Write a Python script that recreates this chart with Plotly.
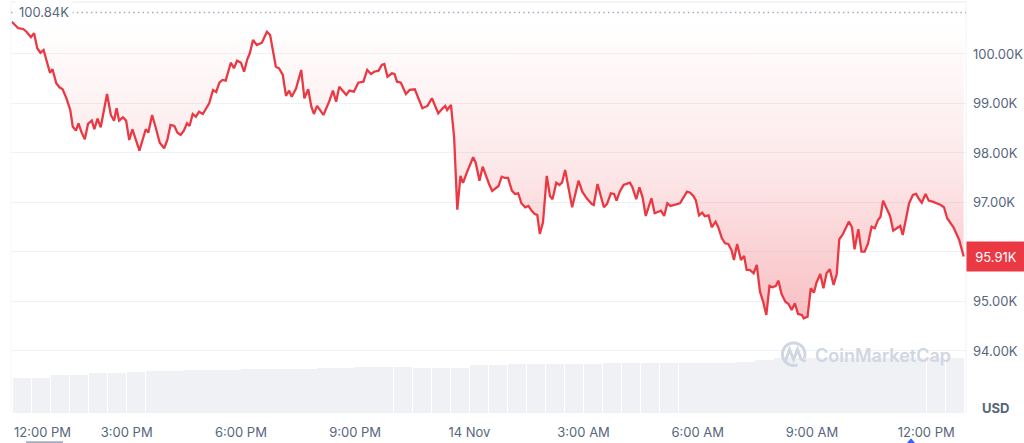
import plotly.graph_objects as go
import pandas as pd
import numpy as np

# ---------------- data ----------------
times_nov13 = [
    "11:59", "12:04", "12:09", "12:17", "12:22", "12:29", "12:34", "12:39", "12:44", "12:49",
    "12:54", "12:59", "13:03", "13:09", "13:14", "13:19", "13:25", "13:31", "13:35", "13:40",
    "13:44", "13:49", "13:54", "13:59", "14:05", "14:09", "14:14", "14:19", "14:29", "14:35",
    "14:40", "14:44", "14:48", "14:54", "14:59", "15:04", "15:09", "15:15", "15:20", "15:25",
    "15:30", "15:34", "15:40", "15:46", "15:52", "15:59", "16:04", "16:09", "16:15", "16:20",
    "16:25", "16:30", "16:35", "16:39", "16:44", "16:49", "16:54", "17:00", "17:05", "17:10",
    "17:16", "17:21", "17:26", "17:31", "17:36", "17:44", "17:49", "17:54", "18:00", "18:05",
    "18:10", "18:14", "18:19", "18:25", "18:33", "18:41", "18:46", "18:55", "19:00", "19:06",
    "19:11", "19:16", "19:20", "19:27", "19:35", "19:40", "19:46", "19:51", "19:55", "20:00",
    "20:10", "20:19", "20:25", "20:30", "20:35", "20:46", "20:51", "20:58", "21:05", "21:13",
    "21:19", "21:25", "21:30", "21:37", "21:42", "21:46", "21:51", "21:58", "22:02", "22:06",
    "22:12", "22:20", "22:26", "22:34", "22:46", "22:54", "23:01", "23:11", "23:18", "23:22",
    "23:25", "23:31", "23:36", "23:41", "23:46", "23:50", "23:56",
]
prices_nov13 = [
    100650, 100590, 100520, 100505, 100450, 100340, 100420, 100115, 100025, 100080,
    99844, 99622, 99691, 99408, 99327, 99287, 99105, 98869, 98531, 98451,
    98600, 98410, 98277, 98586, 98653, 98479, 98693, 98519, 99192, 98768,
    98653, 98903, 98653, 98721, 98653, 98263, 98479, 98228, 98047, 98263,
    98479, 98410, 98768, 98499, 98208, 98095, 98263, 98566, 98546, 98410,
    98364, 98451, 98600, 98546, 98788, 98733, 98834, 98788, 98883, 99004,
    99273, 99232, 99420, 99475, 99461, 99824, 99711, 99865, 99824, 99642,
    99893, 100014, 100283, 100182, 100228, 100450, 100384, 99743, 99711, 99576,
    99152, 99259, 99137, 99307, 99677, 99105, 99287, 98935, 98788, 98950,
    98768, 99036, 99259, 99036, 99339, 99172, 99259, 99238, 99420, 99440,
    99677, 99596, 99642, 99663, 99778, 99798, 99541, 99610, 99596, 99440,
    99420, 99192, 99273, 99287, 98903, 98950, 99105, 98802, 98903, 98950,
    98869, 98970, 98313, 96855, 97536, 97394, 97602,
]
times_nov14 = [
    "00:01", "00:06", "00:10", "00:16", "00:21", "00:26", "00:31", "00:36", "00:41", "00:46",
    "00:51", "00:56", "01:01", "01:07", "01:12", "01:17", "01:22", "01:28", "01:33", "01:38",
    "01:43", "01:47", "01:51", "01:56", "02:02", "02:07", "02:11", "02:17", "02:22", "02:26",
    "02:31", "02:37", "02:42", "02:47", "02:52", "02:58", "03:05", "03:13", "03:16", "03:22",
    "03:27", "03:32", "03:37", "03:43", "03:48", "03:52", "03:57", "04:03", "04:13", "04:17",
    "04:23", "04:28", "04:33", "04:38", "04:47", "04:52", "05:02", "05:07", "05:12", "05:17",
    "05:32", "05:37", "05:43", "05:48", "05:53", "05:57", "06:02", "06:07", "06:11", "06:17",
    "06:22", "06:28", "06:32", "06:38", "06:43", "06:48", "06:53", "06:57", "07:02", "07:08",
    "07:13", "07:17", "07:22", "07:28", "07:33", "07:38", "07:43", "07:48", "07:53", "07:58",
    "08:03", "08:07", "08:12", "08:18", "08:23", "08:28", "08:33", "08:38", "08:44", "08:47",
    "08:53", "08:58", "09:03", "09:07", "09:13", "09:18", "09:23", "09:28", "09:34", "09:39",
    "09:43", "09:48", "09:54", "09:58", "10:03", "10:07", "10:13", "10:18", "10:23", "10:28",
    "10:34", "10:39", "10:44", "10:48", "10:52", "10:58", "11:03", "11:08", "11:14", "11:19",
    "11:23", "11:28", "11:33", "11:39", "11:44", "11:49", "11:53", "11:59", "12:04", "12:10",
    "12:18", "12:23", "12:28", "12:33", "12:43", "12:52", "12:59",
]
prices_nov14 = [
    97778, 97913, 97804, 97441, 97723, 97536, 97374, 97233, 97287, 97334,
    97521, 97495, 97495, 97239, 97172, 97186, 96984, 96903, 96930, 96835,
    96768, 96748, 96364, 96592, 97536, 97132, 97065, 97400, 97354, 97400,
    97657, 97253, 96903, 97172, 97441, 97218, 97085, 96970, 96950, 97374,
    97132, 96903, 96970, 97186, 97172, 97037, 97218, 97354, 97400, 97307,
    97065, 97307, 97105, 96728, 97085, 96782, 96835, 96728, 96984, 96930,
    96984, 97105, 97218, 97198, 97132, 97041, 96738, 96794, 96722, 96738,
    96499, 96612, 96511, 96277, 96176, 96162, 96041, 95839, 96162, 95839,
    95920, 95637, 95637, 95570, 95738, 95198, 94996, 94728, 95314, 95287,
    95314, 95421, 95152, 94996, 94950, 94829, 94964, 94748, 94728, 94661,
    94693, 95267, 95178, 95380, 95556, 95267, 95570, 95651, 95334, 95556,
    96257, 96344, 96511, 96612, 96499, 96055, 96459, 96006, 96006, 96162,
    96511, 96479, 96647, 96713, 97037, 96849, 96728, 96431, 96479, 96526,
    96344, 96661, 96984, 97152, 97172, 97065, 96996, 97172, 97037, 97016,
    96970, 96950, 96903, 96681, 96499, 96243, 95910,
]
# 30-minute volume bars (billions USD)
volume_b = [
    59.6, 59.6, 64.2, 64.2, 68.1, 68.1, 69.8, 71.5, 71.5, 73.9,
    73.9, 73.9, 75.6, 75.6, 75.6, 75.6, 77.3, 77.3, 78.3, 78.3,
    78.3, 77.3, 77.3, 77.3, 81.2, 81.2, 82.9, 84.1, 84.1, 84.1,
    84.1, 85.8, 85.8, 85.8, 85.8, 85.8, 85.8, 85.8, 87.5, 90.9,
    94.3, 94.3, 94.3, 94.3, 94.3, 94.3, 94.3, 94.3, 94.3, 94.3,
]
high_24h = 100840
x_tick_times = ["2025-11-13 15:00", "2025-11-13 18:00", "2025-11-13 21:00", "2025-11-14 00:00",
                "2025-11-14 03:00", "2025-11-14 06:00", "2025-11-14 09:00", "2025-11-14 12:00"]
x_tick_labels = ["3:00 PM", "6:00 PM", "9:00 PM", "14 Nov", "3:00 AM", "6:00 AM", "9:00 AM", "12:00 PM"]
first_x_label = "12:00 PM"
y_ticks = [94000, 95000, 96000, 97000, 98000, 99000, 100000]
y_tick_labels = ["94.00K", "95.00K", "", "97.00K", "98.00K", "99.00K", "100.00K"]  # 96K label hidden by price badge

# ---------------- build ----------------
RED = "#ea3943"
GREY = "#58667e"
FONT = "Inter"
W, H = 1024, 443
ML, MR, MT, MB = 11, 58, 2, 30
PW, PH = W - ML - MR, H - MT - MB

def pxx(x):  # pixel -> paper x
    return (x - ML) / PW

def pyy(y):  # pixel -> paper y
    return (H - MB - y) / PH

times = pd.to_datetime(["2025-11-13 " + t for t in times_nov13] + ["2025-11-14 " + t for t in times_nov14])
prices = prices_nov13 + prices_nov14
baseline = prices[0]
vol_times = pd.date_range("2025-11-13 12:15", periods=len(volume_b), freq="30min")

fig = go.Figure()
fig.add_trace(go.Bar(x=vol_times, y=volume_b, yaxis="y2", marker=dict(color="#eff1f5", line=dict(width=0)),
                     width=1800000 * 0.97, hoverinfo="skip", showlegend=False))
fig.add_trace(go.Scatter(x=times, y=[baseline] * len(prices), mode="lines", line=dict(width=0, color="rgba(0,0,0,0)"),
                         hoverinfo="skip", showlegend=False))
fig.add_trace(go.Scatter(x=times, y=prices, mode="lines", line=dict(color=RED, width=2.3),
                         fill="tonexty",
                         fillgradient=dict(type="vertical",
                                           colorscale=[[0, "rgba(234,57,67,0.32)"], [0.5, "rgba(234,57,67,0.12)"],
                                                       [1, "rgba(234,57,67,0.0)"]]),
                         showlegend=False))

shapes = [
    dict(type="line", xref="paper", yref="paper", x0=0, x1=1, y0=1, y1=1, line=dict(color="#eff2f5", width=1.5)),
    dict(type="line", xref="paper", yref="paper", x0=1, x1=1, y0=0, y1=1, line=dict(color="#eff2f5", width=1)),
    dict(type="line", xref="paper", yref="paper", x0=0, x1=0, y0=0, y1=1, line=dict(color="#f5f6f8", width=1)),
    dict(type="line", xref="paper", yref="y", x0=0, x1=1, y0=high_24h, y1=high_24h,
         line=dict(color="#a3acbb", width=1.5, dash="1.5px,3.2px")),
    # small event markers under the time axis
    dict(type="rect", xref="paper", yref="paper", x0=pxx(26), x1=pxx(63), y0=pyy(447), y1=pyy(441.3),
         fillcolor="#a4adbf", line=dict(width=0)),
    dict(type="path", xref="paper", yref="paper",
         path=f"M {pxx(906.5)} {pyy(443.5)} L {pxx(911)} {pyy(438.3)} L {pxx(915.5)} {pyy(443.5)} Z",
         fillcolor="#3861fb", line=dict(width=0)),
]
# watermark logo (circle with M)
WM = "#d0d6e2"
cx, cy, r = 793.7, 354.2, 11.3
ang = np.linspace(np.deg2rad(70), np.deg2rad(380), 40)
circ = " ".join(("M" if i == 0 else "L") + f" {pxx(cx + r*np.cos(a))} {pyy(cy + r*np.sin(a))}" for i, a in enumerate(ang))
shapes.append(dict(type="path", xref="paper", yref="paper", path=circ, line=dict(color=WM, width=3)))
mpts = [(785.5, 361), (789.5, 349.5), (793.5, 359.5), (797.5, 349.5), (801, 359), (805.5, 361.5)]
mpath = " ".join(("M" if i == 0 else "L") + f" {pxx(x)} {pyy(y)}" for i, (x, y) in enumerate(mpts))
shapes.append(dict(type="path", xref="paper", yref="paper", path=mpath, line=dict(color=WM, width=3)))

annotations = [
    dict(text=f"{high_24h/1000:.2f}K", x=pxx(15), xref="paper", xanchor="left", y=high_24h, yref="y",
         yanchor="middle", showarrow=False, bgcolor="white", borderpad=3, font=dict(family=FONT, size=13, color=GREY)),
    dict(text=f"{prices[-1]/1000:.2f}K", x=1, xref="paper", xanchor="left", y=prices[-1], yref="y",
         yanchor="middle", showarrow=False, bgcolor=RED, borderpad=4, width=50, height=21, align="center",
         font=dict(family=FONT, size=13, color="white")),
    dict(text="<b>USD</b>", x=pxx(995), xref="paper", xanchor="center", y=pyy(408), yref="paper",
         yanchor="middle", showarrow=False, font=dict(family=FONT, size=13, color=GREY)),
    dict(text=first_x_label, x=pxx(11.7), xref="paper", xanchor="left", y=pyy(432), yref="paper",
         yanchor="middle", showarrow=False, font=dict(family=FONT, size=13, color=GREY)),
    dict(text="CoinMarketCap", x=pxx(882.5), xref="paper", xanchor="center", y=pyy(355), yref="paper",
         yanchor="middle", showarrow=False, font=dict(family=FONT, size=18, color=WM, weight=600)),
]

fig.update_layout(
    width=W, height=H, margin=dict(l=ML, r=MR, t=MT, b=MB),
    paper_bgcolor="white", plot_bgcolor="white", showlegend=False,
    font=dict(family=FONT, size=13, color=GREY),
    bargap=0,
    xaxis=dict(type="date", range=["2025-11-13 11:57:38", "2025-11-14 13:02:42"],
               tickvals=x_tick_times, ticktext=x_tick_labels, showgrid=False, zeroline=False,
               showline=False, ticks="", ticklabelstandoff=10, tickfont=dict(family=FONT, size=13, color=GREY)),
    yaxis=dict(side="right", range=[92747, 101050], tickvals=y_ticks, ticktext=y_tick_labels,
               showgrid=True, gridcolor="#eff2f5", gridwidth=1, zeroline=False, showline=False,
               ticks="", ticklabelstandoff=6, tickfont=dict(family=FONT, size=13, color=GREY)),
    yaxis2=dict(overlaying="y", range=[0, 700], visible=False),
    shapes=shapes, annotations=annotations,
)

fig.write_html("out.html", config={"displayModeBar": False},
               post_script="document.body.style.margin='0';document.body.style.overflow='hidden';")
